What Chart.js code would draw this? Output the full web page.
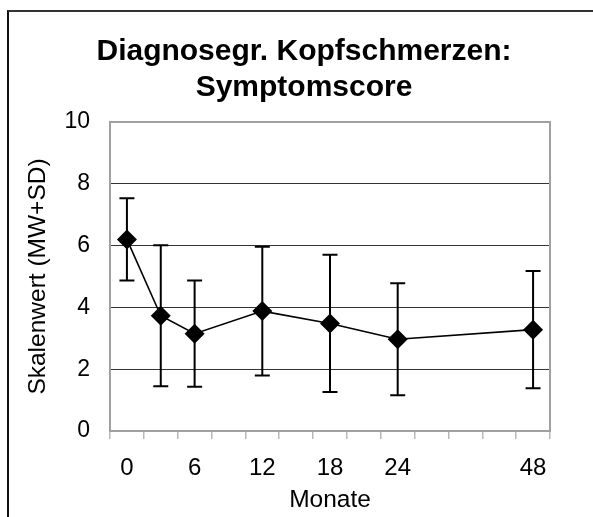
<!DOCTYPE html>
<html>
<head>
<meta charset="utf-8">
<script src="https://cdn.jsdelivr.net/npm/chart.js@4"></script>
<style>
  body { margin: 0; background: #fff; }
  #wrap { position: relative; width: 593px; height: 517px; overflow: hidden; }
  #frame { position: absolute; left: 7px; top: 10px; width: 600px; height: 520px;
           border-top: 2px solid #333; border-left: 2px solid #111; }
  #chart { position: absolute; left: 0; top: 0; }
</style>
</head>
<body>
<div id="wrap">
  <div id="frame"></div>
  <canvas id="chart" width="593" height="517"></canvas>
</div>
<script>
// Months after start (only some categories carry a label)
const monthLabels = ['0', '', '6', '', '12', '', '18', '', '24', '', '', '', '48'];
// Mean symptom score (MW) per category, null where no measurement
const meanValues = [6.2, 3.73, 3.15, null, 3.88, null, 3.48, null, 2.97, null, null, null, 3.28];
// Standard deviation (SD) per category
const sdValues = [1.33, 2.28, 1.72, null, 2.08, null, 2.22, null, 1.81, null, null, null, 1.9];
const yTicks = [0, 2, 4, 6, 8, 10];

const FONT = "'Liberation Sans', Arial, sans-serif";

// Draw error bars (mean +/- SD) through the chart scales
const errorBars = {
    id: 'errorBars',
    afterDatasetsDraw(chart) {
        const { ctx, scales: { x, y } } = chart;
        ctx.save();
        ctx.strokeStyle = '#000';
        ctx.lineWidth = 2;
        meanValues.forEach((m, i) => {
            if (m === null) return;
            const px = x.getPixelForValue(i);
            const top = y.getPixelForValue(m + sdValues[i]);
            const bot = y.getPixelForValue(m - sdValues[i]);
            ctx.beginPath();
            ctx.moveTo(px, top); ctx.lineTo(px, bot);
            ctx.moveTo(px - 7.5, top); ctx.lineTo(px + 7.5, top);
            ctx.moveTo(px - 7.5, bot); ctx.lineTo(px + 7.5, bot);
            ctx.stroke();
        });
        ctx.restore();
    }
};

// Gray frame around the plot area
const plotFrame = {
    id: 'plotFrame',
    beforeDatasetsDraw(chart) {
        const { ctx, chartArea: a } = chart;
        ctx.save();
        ctx.strokeStyle = '#a0a0a0';
        ctx.lineWidth = 2;
        ctx.strokeRect(a.left, a.top, a.right - a.left, a.bottom - a.top);
        ctx.restore();
    }
};

const ctx = document.getElementById('chart').getContext('2d');
new Chart(ctx, {
    type: 'line',
    data: {
        labels: monthLabels,
        datasets: [{
            data: meanValues,
            borderColor: '#000',
            borderWidth: 1.6,
            backgroundColor: '#000',
            pointStyle: 'rectRot',
            pointRadius: 10,
            pointBorderWidth: 0,
            spanGaps: true,
            tension: 0
        }]
    },
    options: {
        responsive: false,
        animation: false,
        events: [],
        layout: { padding: { left: 15, right: 0, top: 0, bottom: 0 } },
        plugins: {
            legend: { display: false },
            tooltip: { enabled: false },
            title: {
                display: true,
                text: ['Diagnosegr. Kopfschmerzen:', 'Symptomscore'],
                color: '#000',
                font: { family: FONT, size: 30, weight: 'bold', lineHeight: 1.2 },
                padding: { top: 34, bottom: 16 }
            }
        },
        scales: {
            x: {
                type: 'category',
                offset: true,
                afterFit(scale) { scale.height = 86; },
                border: { display: false },
                grid: {
                    offset: true,
                    drawOnChartArea: false,
                    drawTicks: true,
                    tickLength: 8,
                    color: '#b8b8b8',
                    lineWidth: 1.5
                },
                ticks: {
                    autoSkip: false,
                    maxRotation: 0,
                    padding: 14.5,
                    color: '#000',
                    font: { family: FONT, size: 24 }
                },
                title: {
                    display: true,
                    text: 'Monate',
                    color: '#000',
                    font: { family: FONT, size: 24.5 },
                    padding: { top: 0, bottom: 2.3 }
                }
            },
            y: {
                min: 0,
                max: 10,
                afterFit(scale) { scale.width = 95; },
                afterBuildTicks(scale) { scale.ticks = yTicks.map(v => ({ value: v })); },
                border: { display: false },
                grid: {
                    drawTicks: false,
                    color: c => (c.tick.value === 0 || c.tick.value === 10) ? 'rgba(0,0,0,0)' : '#333',
                    lineWidth: 1
                },
                ticks: {
                    padding: 20,
                    color: '#000',
                    font: { family: FONT, size: 23 }
                },
                title: {
                    display: true,
                    text: 'Skalenwert (MW+SD)',
                    color: '#000',
                    font: { family: FONT, size: 24.5 },
                    padding: { top: 8.3, bottom: 0 }
                }
            },
            // empty right-hand axis, only reserves the white space right of the plot
            yRight: {
                position: 'right',
                display: true,
                afterFit(scale) { scale.width = 43; },
                border: { display: false },
                grid: { display: false },
                ticks: { display: false }
            }
        }
    },
    plugins: [plotFrame, errorBars]
});
</script>
</body>
</html>
